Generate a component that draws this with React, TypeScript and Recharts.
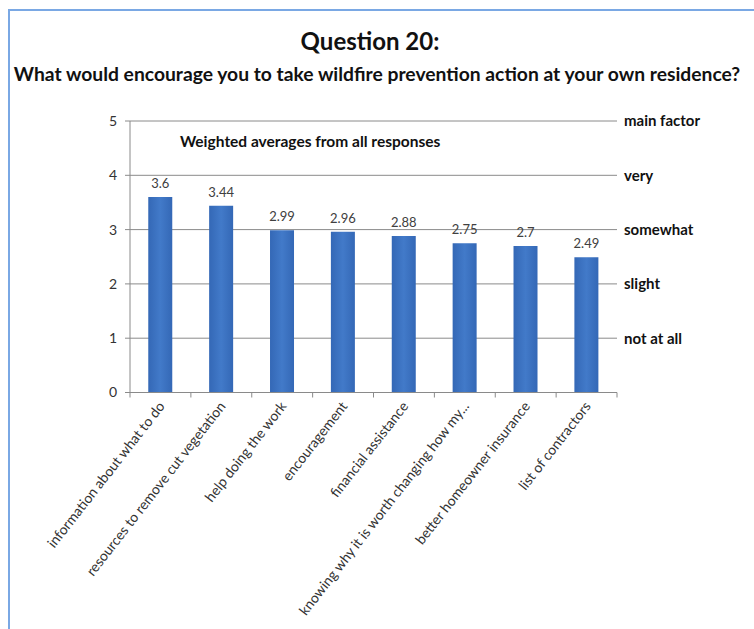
import React from 'react';
import { BarChart, Bar, XAxis, YAxis, CartesianGrid, LabelList, ReferenceLine } from 'recharts';

const categories = [
  'information about what to do',
  'resources to remove cut vegetation',
  'help doing the work',
  'encouragement',
  'financial assistance',
  'knowing why it is worth changing how my...',
  'better homeowner insurance',
  'list of contractors',
];
const scores = [3.6, 3.44, 2.99, 2.96, 2.88, 2.75, 2.7, 2.49];
const scoreTicks = [0, 1, 2, 3, 4, 5];
const levelTicks = [1, 2, 3, 4, 5];
const levelLabels = ['not at all', 'slight', 'somewhat', 'very', 'main factor'];

const data = categories.map((name, i) => ({ name, score: scores[i] }));

const FONT = 'Lato, "Open Sans", sans-serif';

function CategoryTick(props: any) {
  const { x, y, payload, index } = props;
  const half = payload && payload.offset ? payload.offset : 30.4;
  const last = index === categories.length - 1;
  return (
    <g>
      <line x1={x - half} y1={y} x2={x - half} y2={y + 5} stroke="#8a8a8a" />
      {last && <line x1={x + half} y1={y} x2={x + half} y2={y + 5} stroke="#8a8a8a" />}
      <text
        transform={`translate(${x + 5},${y + 14}) rotate(-52)`}
        textAnchor="end"
        fontSize={14}
        fontFamily={FONT}
        fill="#333"
      >
        {payload.value}
      </text>
    </g>
  );
}

export default function App() {
  return (
    <div style={{ position: 'absolute', left: 0, top: 0, width: 754, height: 629, background: '#fff', fontFamily: FONT }}>
      <div style={{ position: 'absolute', left: 8, top: 9, width: 746, height: 620, borderTop: '2px solid #7aa8e4', borderLeft: '2px solid #7aa8e4' }} />
      <BarChart
        width={754}
        height={629}
        data={data}
        margin={{ top: 121, right: 137, bottom: 36.5, left: 100 }}
        barCategoryGap="30%"
        style={{ position: 'absolute', left: 0, top: 0 }}
      >
        <defs>
          <linearGradient id="barFill" x1="0" y1="0" x2="1" y2="0">
            <stop offset="0%" stopColor="#3468b6" />
            <stop offset="50%" stopColor="#427ac9" />
            <stop offset="100%" stopColor="#3468b6" />
          </linearGradient>
        </defs>
        <CartesianGrid vertical={false} stroke="#8a8a8a" />
        <XAxis
          dataKey="name"
          interval={0}
          height={200}
          tickLine={false}
          tickSize={0}
          tickMargin={0}
          axisLine={{ stroke: '#8a8a8a' }}
          tick={<CategoryTick />}
        />
        <YAxis
          width={30}
          domain={[0, 5]}
          ticks={scoreTicks}
          interval={0}
          tickSize={5}
          tickMargin={8}
          axisLine={{ stroke: '#8a8a8a' }}
          tickLine={{ stroke: '#8a8a8a' }}
          tick={{ fontSize: 14, fill: '#333', fontFamily: FONT }}
        />
        {levelTicks.map((v, i) => (
          <ReferenceLine
            key={v}
            y={v}
            stroke="none"
            label={{
              value: levelLabels[i],
              position: 'right',
              offset: 7,
              fontSize: 15,
              fontWeight: 700,
              fontFamily: FONT,
              fill: '#111',
            }}
          />
        ))}
        <Bar dataKey="score" fill="url(#barFill)" isAnimationActive={false}>
          <LabelList dataKey="score" position="top" offset={9} fontSize={13} fill="#404040" fontFamily={FONT} />
        </Bar>
      </BarChart>
      <div style={{ position: 'absolute', left: 0, width: 740, top: 26, textAlign: 'center', fontSize: 24, fontWeight: 700, color: '#111' }}>
        Question 20:
      </div>
      <div style={{ position: 'absolute', left: 0, width: 754, top: 62, textAlign: 'center', fontSize: 19.3, fontWeight: 700, color: '#111', whiteSpace: 'nowrap' }}>
        What would encourage you to take wildfire prevention action at your own residence?
      </div>
      <div style={{ position: 'absolute', left: 180, top: 132, fontSize: 15.5, fontWeight: 700, color: '#111', whiteSpace: 'nowrap' }}>
        Weighted averages from all responses
      </div>
    </div>
  );
}
